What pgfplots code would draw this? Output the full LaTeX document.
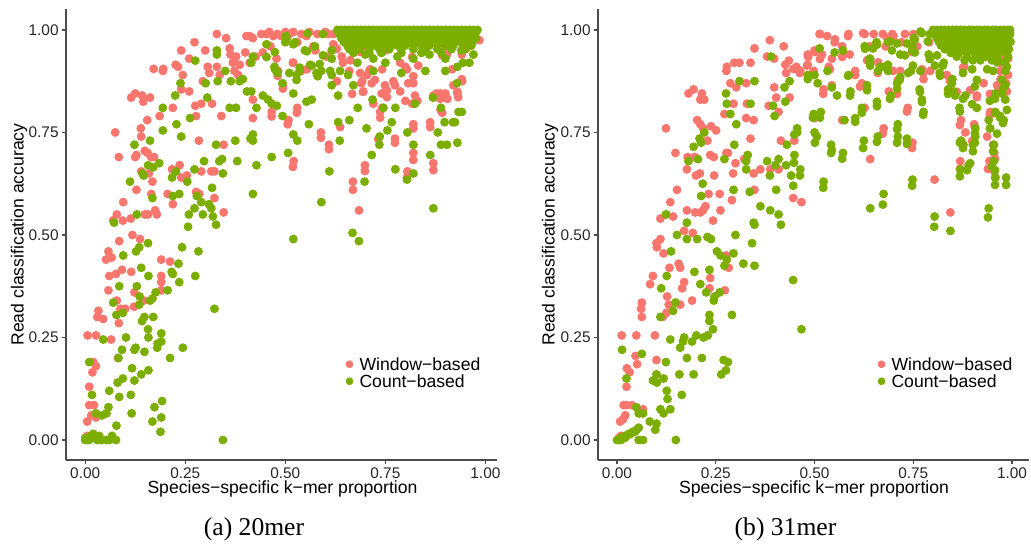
\documentclass[border=0pt]{standalone}
\usepackage{fontspec}
\setmainfont{Liberation Sans}
\newfontfamily\capfont{Liberation Serif}
\usepackage{pgfplots}
\pgfplotsset{compat=1.18}
\definecolor{winc}{HTML}{F8766D}
\definecolor{cntc}{HTML}{7CAE00}

% left panel (20mer)
\pgfplotstableread{
x y
0.005 0.01
0.01 0.005
0.005 0.045
0.015 0.06
0.01 0.085
0.022 0.085
0.027 0.055
0.01 0.13
0.018 0.165
0.02 0.19
0.027 0.18
0.006 0.255
0.027 0.255
0.03 0.3
0.033 0.315
0.045 0.295
0.058 0.365
0.06 0.4
0.052 0.44
0.058 0.46
0.066 0.445
0.07 0.536
0.075 0.75
0.084 0.69
0.079 0.55
0.084 0.285
0.079 0.34
0.077 0.405
0.085 0.485
0.065 0.245
0.092 0.415
0.088 0.32
0.1 0.32
0.094 0.535
0.095 0.58
0.082 0.2
0.114 0.54
0.128 0.61
0.118 0.5
0.115 0.41
0.123 0.36
0.122 0.325
0.125 0.69
0.128 0.695
0.115 0.835
0.125 0.845
0.142 0.84
0.145 0.825
0.139 0.76
0.14 0.74
0.155 0.78
0.149 0.705
0.156 0.7
0.165 0.69
0.159 0.65
0.14 0.655
0.168 0.63
0.149 0.55
0.157 0.55
0.137 0.49
0.146 0.34
0.172 0.69
0.165 0.6
0.175 0.56
0.179 0.55
0.19 0.44
0.19 0.4
0.19 0.385
0.19 0.365
0.171 0.905
0.194 0.9
0.195 0.905
0.162 0.835
0.186 0.79
0.206 0.6
0.212 0.435
0.219 0.575
0.217 0.66
0.219 0.81
0.226 0.915
0.232 0.91
0.24 0.95
0.236 0.67
0.24 0.64
0.244 0.89
0.24 0.855
0.254 0.645
0.26 0.93
0.26 0.85
0.273 0.97
0.275 0.815
0.277 0.79
0.277 0.605
0.285 0.6
0.284 0.73
0.29 0.82
0.294 0.875
0.29 0.655
0.306 0.91
0.31 0.895
0.3 0.95
0.315 0.655
0.323 0.655
0.323 0.59
0.317 0.82
0.329 0.91
0.329 0.99
0.336 0.89
0.34 0.79
0.346 0.72
0.346 0.555
0.352 0.98
0.361 0.955
0.363 0.94
0.369 0.92
0.377 0.935
0.373 0.9
0.382 0.89
0.386 0.915
0.4 0.945
0.403 0.985
0.411 0.985
0.419 0.98
0.411 0.92
0.419 0.785
0.419 0.83
0.426 0.935
0.444 0.945
0.453 0.99
0.47 0.985
0.463 0.96
0.466 0.8
0.478 0.93
0.482 0.9
0.494 0.865
0.5 0.995
0.511 0.99
0.508 0.78
0.521 0.68
0.52 0.92
0.53 0.97
0.53 0.81
0.54 0.9
0.553 0.985
0.57 0.96
0.575 0.95
0.589 0.75
0.609 0.72
0.603 0.935
0.607 0.99
0.62 0.965
0.641 0.935
0.66 0.9
0.669 0.63
0.684 0.56
0.699 0.67
0.69 0.87
0.695 0.85
0.71 0.9
0.716 0.87
0.737 0.8
0.741 0.845
0.749 0.865
0.774 0.735
0.77 0.875
0.787 0.85
0.805 0.655
0.8 0.91
0.82 0.7
0.82 0.77
0.82 0.87
0.824 0.84
0.862 0.775
0.87 0.675
0.87 0.84
0.878 0.845
0.888 0.845
0.9 0.845
0.888 0.805
0.904 0.94
0.92 0.865
0.93 0.845
0.941 0.88
0.941 0.94
0.92 0.98
0.687 0.946
0.662 0.926
0.712 0.904
0.742 0.904
0.724 0.878
0.804 0.904
0.82 0.887
0.807 0.87
0.8 0.827
0.83 0.827
0.817 0.82
0.774 0.865
0.754 0.853
0.754 0.836
0.742 0.81
0.72 0.82
0.694 0.849
0.692 0.875
0.704 0.89
0.737 0.786
0.862 0.763
0.82 0.76
0.87 0.658
0.804 0.64
0.774 0.725
0.82 0.683
0.732 0.734
0.699 0.656
0.669 0.61
0.609 0.709
0.589 0.737
0.637 0.763
0.529 0.798
0.506 0.77
0.519 0.666
0.466 0.789
0.494 0.857
0.481 0.888
0.519 0.92
0.554 0.904
0.629 0.875
0.687 0.895
0.87 0.836
0.887 0.832
0.905 0.832
0.93 0.849
0.932 0.836
0.942 0.875
0.892 0.938
0.917 0.904
0.892 0.798
0.629 0.954
0.644 0.92
0.667 0.844
0.787 0.92
0.832 0.913
0.817 0.934
0.44 0.99
0.46 0.995
0.48 0.99
0.49 0.985
0.52 0.995
0.54 0.99
0.56 0.995
0.58 0.99
0.6 0.995
0.62 0.99
0.64 0.995
0.66 0.99
0.985 0.975
0.95 0.97
0.96 0.96
0.7 0.96
0.75 0.95
0.85 0.95
0.9 0.96
}\leftwin

\pgfplotstableread{
x y
0.0 0.0
0.005 0.0
0.01 0.0
0.015 0.01
0.02 0.015
0.025 0.005
0.03 0.0
0.035 0.01
0.04 0.0
0.01 0.005
0.0 0.005
0.01 0.19
0.017 0.11
0.027 0.065
0.045 0.245
0.042 0.06
0.053 0.065
0.058 0.08
0.06 0.12
0.053 0.0
0.06 0.0
0.077 0.0
0.067 0.01
0.078 0.035
0.072 0.53
0.07 0.335
0.078 0.305
0.083 0.2
0.081 0.14
0.085 0.105
0.085 0.375
0.095 0.45
0.094 0.31
0.092 0.22
0.094 0.15
0.102 0.25
0.112 0.63
0.116 0.065
0.114 0.11
0.117 0.175
0.123 0.22
0.126 0.225
0.123 0.145
0.129 0.375
0.127 0.46
0.135 0.47
0.129 0.55
0.123 0.72
0.14 0.42
0.136 0.35
0.135 0.33
0.148 0.3
0.14 0.16
0.148 0.215
0.142 0.29
0.143 0.65
0.146 0.645
0.157 0.48
0.158 0.4
0.157 0.27
0.158 0.25
0.158 0.17
0.162 0.73
0.162 0.34
0.168 0.345
0.176 0.36
0.168 0.59
0.17 0.665
0.157 0.67
0.17 0.3
0.168 0.045
0.173 0.08
0.18 0.225
0.181 0.235
0.19 0.26
0.19 0.24
0.19 0.055
0.188 0.02
0.192 0.095
0.185 0.675
0.194 0.755
0.194 0.81
0.206 0.365
0.212 0.2
0.216 0.41
0.219 0.405
0.217 0.64
0.227 0.655
0.219 0.595
0.235 0.6
0.225 0.84
0.228 0.77
0.233 0.43
0.235 0.385
0.238 0.87
0.24 0.74
0.242 0.47
0.244 0.225
0.257 0.52
0.259 0.55
0.255 0.63
0.262 0.785
0.273 0.565
0.273 0.66
0.275 0.4
0.279 0.595
0.283 0.46
0.29 0.58
0.294 0.55
0.275 0.925
0.297 0.68
0.301 0.87
0.305 0.835
0.309 0.575
0.315 0.565
0.317 0.615
0.319 0.545
0.327 0.525
0.323 0.32
0.327 0.72
0.329 0.95
0.329 0.94
0.331 0.875
0.335 0.68
0.342 0.685
0.344 0.65
0.344 0.0
0.35 0.9
0.361 0.81
0.377 0.81
0.364 0.875
0.386 0.875
0.394 0.88
0.375 0.73
0.38 0.68
0.404 0.85
0.415 0.85
0.413 0.735
0.419 0.73
0.419 0.745
0.419 0.6
0.428 0.67
0.428 0.81
0.419 0.935
0.415 0.92
0.444 0.84
0.457 0.83
0.466 0.82
0.466 0.69
0.453 0.965
0.473 0.91
0.478 0.9
0.479 0.815
0.493 0.79
0.493 0.87
0.5 0.97
0.502 0.985
0.507 0.7
0.52 0.49
0.52 0.745
0.53 0.73
0.52 0.845
0.528 0.89
0.524 0.97
0.536 0.9
0.559 0.77
0.553 0.825
0.566 0.83
0.549 0.95
0.562 0.915
0.59 0.58
0.578 0.895
0.59 0.9
0.61 0.655
0.612 0.9
0.632 0.775
0.636 0.73
0.632 0.84
0.66 0.78
0.668 0.505
0.684 0.485
0.681 0.81
0.698 0.63
0.703 0.76
0.716 0.695
0.718 0.83
0.735 0.72
0.736 0.74
0.745 0.81
0.766 0.775
0.755 0.755
0.775 0.66
0.775 0.81
0.805 0.75
0.804 0.635
0.82 0.72
0.82 0.65
0.824 0.82
0.862 0.695
0.87 0.565
0.869 0.835
0.881 0.75
0.889 0.72
0.904 0.72
0.889 0.81
0.898 0.775
0.919 0.775
0.924 0.775
0.93 0.725
0.933 0.8
0.941 0.8
0.929 0.87
0.944 0.92
0.556 0.992
0.594 0.99
0.503 0.977
0.52 0.965
0.453 0.934
0.474 0.946
0.554 0.948
0.574 0.96
0.594 0.938
0.616 0.95
0.616 0.93
0.586 0.917
0.566 0.913
0.536 0.908
0.474 0.904
0.48 0.895
0.51 0.895
0.528 0.878
0.581 0.887
0.616 0.89
0.637 0.9
0.657 0.89
0.67 0.865
0.616 0.865
0.7 0.94
0.72 0.93
0.75 0.92
0.78 0.935
0.82 0.93
0.86 0.94
0.9 0.93
0.94 0.95
0.96 0.92
0.97 0.94
0.68 0.92
0.72 0.9
0.79 0.895
0.85 0.9
0.9 0.9
0.93 0.91
0.63 1.0
0.64 1.0
0.65 1.0
0.66 1.0
0.67 1.0
0.68 1.0
0.69 1.0
0.70 1.0
0.71 1.0
0.72 1.0
0.73 1.0
0.74 1.0
0.75 1.0
0.76 1.0
0.77 1.0
0.78 1.0
0.79 1.0
0.80 1.0
0.81 1.0
0.82 1.0
0.83 1.0
0.84 1.0
0.85 1.0
0.86 1.0
0.87 1.0
0.88 1.0
0.89 1.0
0.90 1.0
0.91 1.0
0.92 1.0
0.93 1.0
0.94 1.0
0.95 1.0
0.96 1.0
0.97 1.0
0.98 1.0
0.635 0.99
0.645 0.99
0.655 0.99
0.665 0.99
0.675 0.99
0.685 0.99
0.695 0.99
0.705 0.99
0.715 0.99
0.725 0.99
0.735 0.99
0.745 0.99
0.755 0.99
0.765 0.99
0.775 0.99
0.785 0.99
0.795 0.99
0.805 0.99
0.815 0.99
0.825 0.99
0.835 0.99
0.845 0.99
0.855 0.99
0.865 0.99
0.875 0.99
0.885 0.99
0.895 0.99
0.905 0.99
0.915 0.99
0.925 0.99
0.935 0.99
0.945 0.99
0.955 0.99
0.965 0.99
0.975 0.99
0.64 0.98
0.652 0.98
0.664 0.98
0.676 0.98
0.688 0.98
0.70 0.98
0.712 0.98
0.724 0.98
0.736 0.98
0.748 0.98
0.76 0.98
0.772 0.98
0.784 0.98
0.796 0.98
0.808 0.98
0.82 0.98
0.832 0.98
0.844 0.98
0.856 0.98
0.868 0.98
0.88 0.98
0.892 0.98
0.904 0.98
0.916 0.98
0.928 0.98
0.94 0.98
0.952 0.98
0.964 0.98
0.976 0.98
0.646 0.971
0.66 0.971
0.674 0.971
0.688 0.971
0.702 0.971
0.716 0.971
0.73 0.971
0.744 0.971
0.758 0.971
0.772 0.971
0.786 0.971
0.80 0.971
0.814 0.971
0.828 0.971
0.842 0.971
0.856 0.971
0.87 0.971
0.884 0.971
0.898 0.971
0.912 0.971
0.926 0.971
0.94 0.971
0.954 0.971
0.968 0.971
0.655 0.962
0.672 0.962
0.69 0.962
0.708 0.962
0.726 0.962
0.744 0.962
0.762 0.962
0.78 0.962
0.80 0.962
0.82 0.962
0.84 0.962
0.86 0.962
0.88 0.962
0.90 0.962
0.92 0.962
0.945 0.962
0.965 0.962
0.66 0.953
0.685 0.953
0.71 0.953
0.735 0.953
0.76 0.953
0.79 0.953
0.82 0.953
0.85 0.953
0.88 0.953
0.915 0.953
0.95 0.953
0.67 0.944
0.71 0.944
0.74 0.944
0.79 0.944
0.84 0.944
0.89 0.944
}\leftcnt

% right panel (31mer)
\pgfplotstableread{
x y
0.005 0.005
0.01 0.01
0.008 0.045
0.015 0.05
0.021 0.06
0.017 0.085
0.024 0.085
0.012 0.255
0.024 0.13
0.025 0.175
0.032 0.165
0.038 0.085
0.049 0.255
0.047 0.205
0.051 0.185
0.058 0.065
0.066 0.075
0.061 0.32
0.063 0.335
0.063 0.3
0.084 0.38
0.091 0.4
0.096 0.255
0.1 0.195
0.101 0.47
0.1 0.48
0.11 0.49
0.11 0.54
0.116 0.3
0.125 0.31
0.118 0.455
0.127 0.35
0.125 0.55
0.124 0.76
0.131 0.33
0.135 0.58
0.142 0.545
0.133 0.42
0.148 0.7
0.152 0.61
0.156 0.43
0.16 0.42
0.16 0.33
0.165 0.37
0.17 0.385
0.17 0.51
0.177 0.66
0.179 0.69
0.177 0.56
0.181 0.845
0.194 0.855
0.192 0.505
0.19 0.34
0.197 0.69
0.2 0.645
0.21 0.65
0.198 0.555
0.211 0.555
0.218 0.56
0.224 0.57
0.203 0.78
0.211 0.77
0.218 0.76
0.211 0.83
0.215 0.845
0.221 0.83
0.229 0.73
0.232 0.6
0.234 0.37
0.236 0.395
0.238 0.765
0.236 0.695
0.245 0.69
0.243 0.535
0.246 0.645
0.251 0.755
0.26 0.6
0.262 0.56
0.273 0.365
0.272 0.795
0.277 0.7
0.281 0.7
0.277 0.9
0.278 0.91
0.277 0.45
0.283 0.42
0.287 0.87
0.291 0.585
0.295 0.82
0.294 0.65
0.297 0.92
0.31 0.92
0.302 0.86
0.3 0.675
0.322 0.685
0.327 0.785
0.327 0.87
0.329 0.82
0.338 0.735
0.338 0.92
0.348 0.955
0.346 0.78
0.348 0.61
0.346 0.65
0.363 0.66
0.38 0.935
0.387 0.975
0.384 0.815
0.388 0.66
0.398 0.93
0.398 0.86
0.403 0.835
0.409 0.8
0.409 0.66
0.422 0.96
0.415 0.73
0.426 0.915
0.428 0.895
0.437 0.835
0.435 0.925
0.446 0.905
0.454 0.91
0.449 0.73
0.446 0.59
0.467 0.58
0.464 0.9
0.483 0.94
0.483 0.915
0.5 0.785
0.498 0.9
0.5 0.95
0.513 0.99
0.523 0.855
0.519 0.94
0.532 0.985
0.551 0.97
0.536 0.91
0.544 0.93
0.544 0.865
0.57 0.78
0.57 0.96
0.589 0.94
0.586 0.99
0.603 0.9
0.627 0.99
0.627 0.81
0.62 0.87
0.641 0.685
0.64 0.96
0.65 0.99
0.66 0.895
0.675 0.76
0.684 0.98
0.697 0.99
0.688 0.85
0.717 0.9
0.736 0.81
0.748 0.725
0.804 0.635
0.776 0.88
0.793 0.9
0.844 0.555
0.871 0.78
0.869 0.68
0.879 0.91
0.882 0.75
0.904 0.77
0.911 0.84
0.928 0.87
0.937 0.74
0.943 0.68
0.955 0.7
0.955 0.655
0.945 0.8
0.962 0.865
0.975 0.85
0.987 0.85
0.971 0.88
0.952 0.72
0.843 0.875
0.86 0.849
0.894 0.853
0.911 0.836
0.944 0.844
0.965 0.849
0.977 0.844
0.944 0.793
0.868 0.768
0.906 0.763
0.899 0.729
0.868 0.661
0.939 0.661
0.957 0.686
0.957 0.64
0.514 0.99
0.552 0.977
0.585 0.985
0.623 0.992
0.673 0.99
0.729 0.99
0.75 0.99
0.7 0.985
0.484 0.934
0.501 0.946
0.514 0.929
0.539 0.904
0.57 0.934
0.456 0.904
0.463 0.895
0.481 0.913
0.522 0.844
0.603 0.89
0.615 0.862
0.633 0.926
0.661 0.921
0.699 0.9
0.711 0.878
0.747 0.946
0.775 0.895
0.835 0.89
0.876 0.908
0.977 0.938
0.851 0.964
0.673 0.747
0.747 0.712
0.734 0.801
0.709 0.844
0.772 0.904
0.82 0.99
0.86 0.98
0.9 0.97
0.95 0.96
0.98 0.95
0.99 0.93
0.97 0.92
0.99 0.89
0.985 0.87
0.97 0.9
0.79 0.97
0.76 0.96
0.72 0.97
0.68 0.96
}\rightwin

\pgfplotstableread{
x y
0.0 0.0
0.005 0.0
0.01 0.005
0.015 0.005
0.02 0.01
0.025 0.01
0.03 0.015
0.035 0.015
0.04 0.02
0.045 0.02
0.05 0.025
0.055 0.03
0.01 0.0
0.02 0.005
0.013 0.22
0.024 0.15
0.049 0.08
0.055 0.065
0.066 0.065
0.063 0.21
0.055 0.0
0.066 0.0
0.083 0.045
0.097 0.025
0.1 0.04
0.091 0.145
0.101 0.14
0.1 0.16
0.11 0.3
0.112 0.37
0.11 0.075
0.118 0.065
0.118 0.15
0.124 0.19
0.126 0.4
0.124 0.55
0.126 0.12
0.128 0.1
0.135 0.075
0.135 0.245
0.137 0.46
0.142 0.315
0.148 0.335
0.152 0.5
0.149 0.0
0.158 0.16
0.16 0.225
0.17 0.25
0.167 0.24
0.164 0.11
0.177 0.53
0.177 0.49
0.177 0.2
0.181 0.68
0.19 0.24
0.194 0.16
0.196 0.41
0.194 0.715
0.201 0.255
0.203 0.49
0.205 0.685
0.209 0.735
0.213 0.725
0.211 0.38
0.215 0.2
0.213 0.595
0.217 0.625
0.221 0.75
0.219 0.25
0.226 0.36
0.229 0.495
0.238 0.49
0.23 0.255
0.234 0.29
0.234 0.305
0.234 0.415
0.243 0.27
0.245 0.34
0.247 0.35
0.26 0.36
0.253 0.46
0.264 0.16
0.262 0.45
0.27 0.195
0.276 0.17
0.281 0.19
0.272 0.425
0.276 0.845
0.272 0.685
0.278 0.44
0.278 0.82
0.287 0.795
0.291 0.305
0.295 0.455
0.3 0.5
0.295 0.61
0.297 0.72
0.302 0.77
0.31 0.875
0.32 0.43
0.327 0.66
0.327 0.68
0.331 0.695
0.336 0.605
0.338 0.82
0.342 0.48
0.346 0.53
0.348 0.525
0.348 0.425
0.348 0.875
0.363 0.57
0.38 0.68
0.387 0.645
0.388 0.56
0.39 0.935
0.395 0.815
0.399 0.79
0.401 0.67
0.403 0.61
0.409 0.685
0.409 0.55
0.415 0.525
0.424 0.86
0.426 0.825
0.43 0.72
0.437 0.875
0.428 0.67
0.441 0.645
0.446 0.62
0.446 0.39
0.449 0.745
0.449 0.695
0.456 0.76
0.464 0.66
0.467 0.27
0.483 0.89
0.483 0.88
0.498 0.795
0.5 0.75
0.506 0.74
0.516 0.8
0.5 0.89
0.513 0.955
0.523 0.63
0.508 0.87
0.533 0.9
0.542 0.72
0.542 0.7
0.544 0.86
0.551 0.945
0.557 0.84
0.572 0.95
0.572 0.7
0.576 0.78
0.586 0.89
0.591 0.85
0.603 0.785
0.62 0.81
0.625 0.73
0.627 0.96
0.633 0.865
0.64 0.93
0.64 0.92
0.641 0.565
0.648 0.955
0.657 0.97
0.658 0.825
0.66 0.74
0.667 0.91
0.678 0.91
0.686 0.915
0.684 0.91
0.675 0.6
0.686 0.97
0.696 0.95
0.709 0.87
0.711 0.77
0.711 0.74
0.694 0.84
0.717 0.885
0.717 0.94
0.734 0.735
0.744 0.9
0.748 0.635
0.748 0.96
0.754 0.945
0.766 0.855
0.768 0.9
0.772 0.83
0.776 0.8
0.789 0.94
0.804 0.545
0.817 0.895
0.827 0.92
0.838 0.855
0.852 0.85
0.844 0.51
0.849 0.88
0.867 0.81
0.871 0.73
0.877 0.72
0.869 0.66
0.89 0.67
0.894 0.675
0.882 0.84
0.901 0.72
0.907 0.74
0.907 0.76
0.941 0.565
0.941 0.78
0.945 0.76
0.954 0.72
0.954 0.68
0.958 0.64
0.958 0.845
0.975 0.845
0.958 0.8
0.97 0.79
0.979 0.78
0.985 0.64
0.987 0.805
0.983 0.83
0.983 0.865
0.983 0.9
0.987 0.91
0.772 0.992
0.792 0.99
0.787 0.972
0.754 0.977
0.734 0.967
0.747 0.951
0.729 0.938
0.691 0.972
0.709 0.967
0.658 0.964
0.628 0.954
0.661 0.9
0.686 0.9
0.641 0.929
0.641 0.913
0.585 0.888
0.633 0.853
0.59 0.84
0.658 0.814
0.603 0.776
0.691 0.832
0.709 0.857
0.716 0.878
0.737 0.895
0.767 0.849
0.772 0.824
0.775 0.793
0.749 0.913
0.792 0.929
0.81 0.938
0.805 0.913
0.825 0.913
0.818 0.888
0.848 0.87
0.838 0.844
0.856 0.84
0.876 0.832
0.899 0.819
0.911 0.81
0.944 0.827
0.957 0.832
0.977 0.857
0.975 0.878
0.906 0.862
0.911 0.878
0.876 0.895
0.899 0.904
0.937 0.904
0.952 0.9
0.962 0.921
0.982 0.921
0.949 0.926
0.901 0.926
0.863 0.946
0.868 0.801
0.957 0.798
0.97 0.786
0.977 0.773
0.944 0.76
0.962 0.747
0.906 0.747
0.906 0.725
0.868 0.725
0.876 0.712
0.901 0.704
0.952 0.704
0.949 0.666
0.957 0.658
0.886 0.658
0.868 0.643
0.957 0.622
0.985 0.622
0.939 0.543
0.747 0.62
0.673 0.574
0.803 0.52
0.522 0.615
0.57 0.686
0.544 0.707
0.623 0.712
0.658 0.727
0.709 0.725
0.734 0.722
0.709 0.758
0.62 0.798
0.496 0.786
0.514 0.786
0.501 0.725
0.456 0.75
0.448 0.676
0.463 0.645
0.814 0.996
0.768 0.996
0.751 0.98
0.80 1.0
0.81 1.0
0.82 1.0
0.83 1.0
0.84 1.0
0.85 1.0
0.86 1.0
0.87 1.0
0.88 1.0
0.89 1.0
0.90 1.0
0.91 1.0
0.92 1.0
0.93 1.0
0.94 1.0
0.95 1.0
0.96 1.0
0.97 1.0
0.98 1.0
0.99 1.0
0.995 1.0
0.805 0.99
0.815 0.99
0.825 0.99
0.835 0.99
0.845 0.99
0.855 0.99
0.865 0.99
0.875 0.99
0.885 0.99
0.895 0.99
0.905 0.99
0.915 0.99
0.925 0.99
0.935 0.99
0.945 0.99
0.955 0.99
0.965 0.99
0.975 0.99
0.985 0.99
0.995 0.99
0.81 0.98
0.822 0.98
0.834 0.98
0.846 0.98
0.858 0.98
0.87 0.98
0.882 0.98
0.894 0.98
0.906 0.98
0.918 0.98
0.93 0.98
0.942 0.98
0.954 0.98
0.966 0.98
0.978 0.98
0.99 0.98
0.815 0.971
0.828 0.971
0.841 0.971
0.854 0.971
0.867 0.971
0.88 0.971
0.893 0.971
0.906 0.971
0.919 0.971
0.932 0.971
0.945 0.971
0.958 0.971
0.971 0.971
0.984 0.971
0.996 0.971
0.82 0.962
0.835 0.962
0.85 0.962
0.865 0.962
0.88 0.962
0.895 0.962
0.91 0.962
0.925 0.962
0.94 0.962
0.955 0.962
0.97 0.962
0.985 0.962
0.83 0.953
0.848 0.953
0.866 0.953
0.884 0.953
0.902 0.953
0.92 0.953
0.938 0.953
0.956 0.953
0.974 0.953
0.992 0.953
0.845 0.944
0.865 0.944
0.885 0.944
0.905 0.944
0.925 0.944
0.945 0.944
0.965 0.944
0.985 0.944
0.86 0.935
0.885 0.935
0.91 0.935
0.935 0.935
0.96 0.935
0.99 0.935
0.88 0.926
0.92 0.926
0.965 0.926
}\rightcnt

\pgfplotsset{
  panel/.style={
    scale only axis, width=215.5pt, height=225.5pt,
    axis x line*=bottom, axis y line*=left,
    axis line style={black!70, line width=0.6pt},
    tick style={black!70, line width=0.6pt},
    tick align=outside, major tick length=2pt,
    xtick={0,0.25,0.5,0.75,1}, xticklabels={0.00,0.25,0.50,0.75,1.00},
    ytick={0,0.25,0.5,0.75,1}, yticklabels={0.00,0.25,0.50,0.75,1.00},
    tick label style={font=\fontsize{7.7}{8}\selectfont, text=black!85},
    xticklabel style={inner sep=1.5pt},
    yticklabel style={inner sep=1.5pt},
    ymin=-0.0488, ymax=1.051,
    legend style={at={(axis description cs:0.649,0.232)}, anchor=north west,
      draw=none, fill=none, inner sep=0pt, row sep=0pt,
      font=\fontsize{8.8}{9}\selectfont,
      nodes={inner sep=1pt, text height=6.3pt, text depth=0.2pt},
      /tikz/every odd column/.append style={column sep=2.3pt}},
    legend cell align=left,
    legend image code/.code={\draw[#1, mark size=1.7pt] plot coordinates {(0pt,0pt)};},
  },
  winpts/.style={only marks, mark=*, mark size=2pt, color=winc},
  cntpts/.style={only marks, mark=*, mark size=2pt, color=cntc},
}

\begin{document}
\begin{tikzpicture}
\useasboundingbox (0,0) rectangle (515.5pt,-273.5pt);

\begin{axis}[panel, at={(33pt,-230pt)}, anchor=south west, xmin=-0.048, xmax=1.029]
  \addplot[winpts] table {\leftwin};
  \addplot[cntpts] table {\leftcnt};
  \legend{Window−based, Count−based}
\end{axis}

\begin{axis}[panel, at={(299pt,-230pt)}, anchor=south west, xmin=-0.048, xmax=1.043]
  \addplot[winpts] table {\rightwin};
  \addplot[cntpts] table {\rightcnt};
  \legend{Window−based, Count−based}
\end{axis}

\node[rotate=90, font=\fontsize{8.8}{9}\selectfont] at (9.5pt,-117.25pt) {Read classification accuracy};
\node[rotate=90, font=\fontsize{8.8}{9}\selectfont] at (275pt,-117.25pt) {Read classification accuracy};
\node[font=\fontsize{8.8}{9}\selectfont] at (141.25pt,-244.5pt) {Species−specific k−mer proportion};
\node[font=\fontsize{8.8}{9}\selectfont] at (407pt,-244.5pt) {Species−specific k−mer proportion};
\node[font=\capfont\fontsize{12.8}{14}\selectfont] at (127pt,-264.5pt) {(a) 20mer};
\node[font=\capfont\fontsize{12.8}{14}\selectfont] at (392.75pt,-264.5pt) {(b) 31mer};
\end{tikzpicture}
\end{document}
